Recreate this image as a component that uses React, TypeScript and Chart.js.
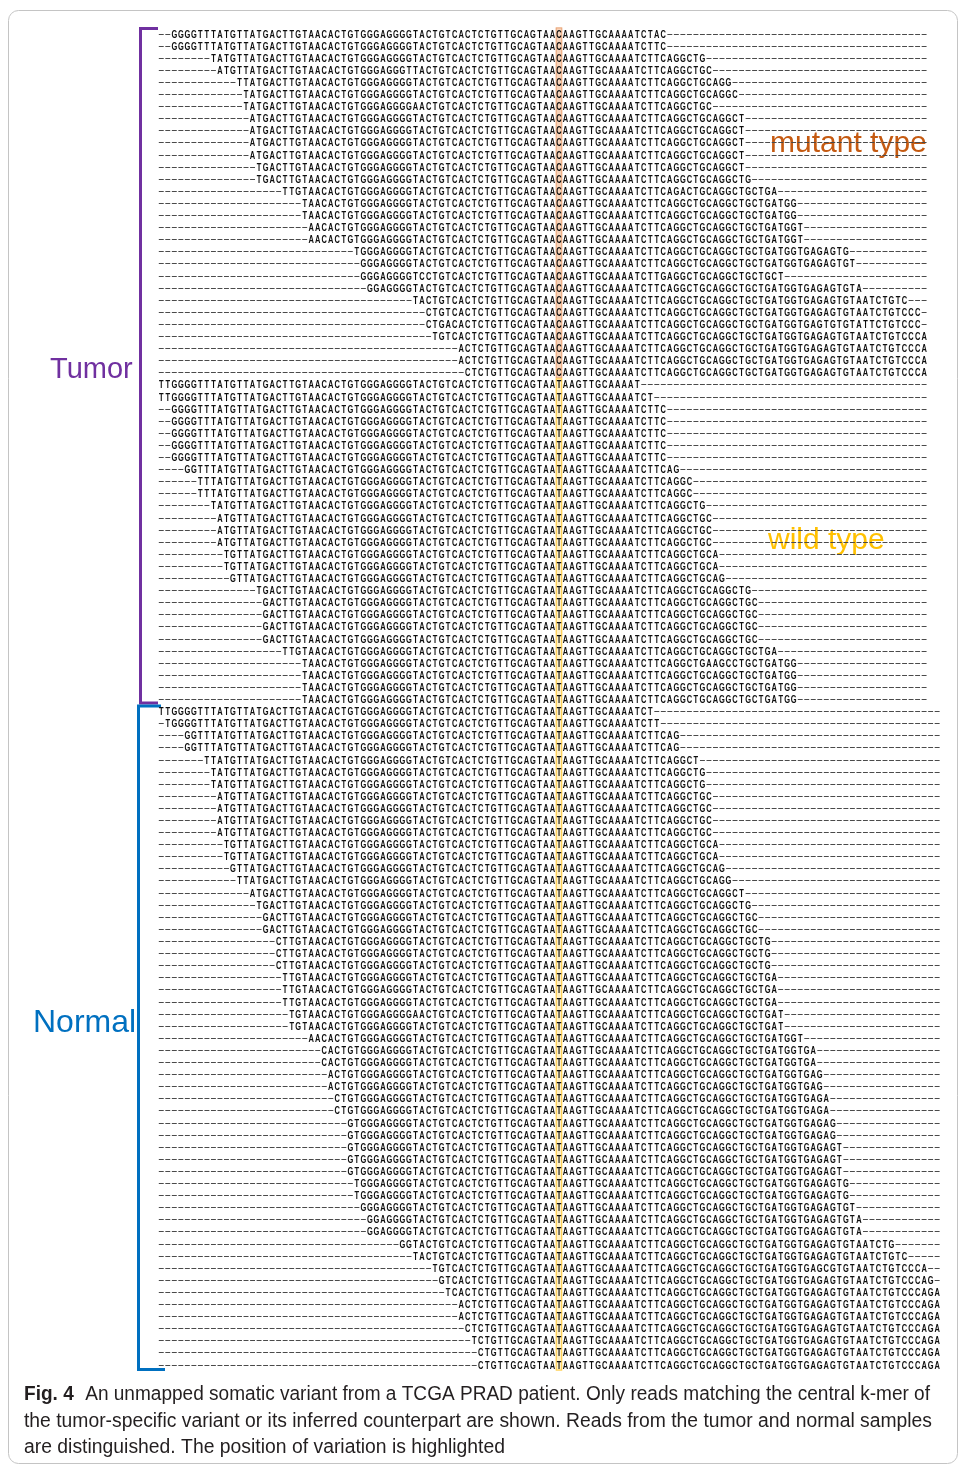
import { useEffect, useRef } from "react";
import { Chart, registerables } from "chart.js";

Chart.register(...registerables);

// ---------- data ----------
const REF_LEFT = "TTGGGGTTTATGTTATGACTTGTAACACTGTGGGAGGGGTACTGTCACTCTGTTGCAGTAA";
const REF_RIGHT = "AAGTTGCAAAATCTTCAGGCTGCAGGCTGCTGATGGTGAGAGTGTAATCTGTCCCAGA";
const VARIANT_INDEX = 61;
const MUTANT_BASE = "C";
const WILD_BASE = "T";

// tumor reads carrying the mutant allele (first aligned column, end column exclusive)
const mutantStarts = [2, 2, 8, 9, 12, 13, 13, 14, 14, 14, 14, 15, 15, 19, 22, 22, 23, 23, 30, 31, 31, 32, 39, 41, 41, 42, 46, 46, 47];
const mutantEnds = [78, 78, 84, 85, 88, 89, 85, 90, 90, 90, 90, 90, 91, 95, 98, 98, 99, 99, 106, 107, 96, 108, 115, 117, 117, 118, 118, 118, 118];

// tumor reads carrying the wild-type allele
const tumorWildStarts = [0, 0, 2, 2, 2, 2, 2, 4, 6, 6, 8, 9, 9, 9, 10, 10, 11, 15, 16, 16, 16, 16, 19, 22, 22, 22, 22];
const tumorWildEnds = [74, 76, 78, 78, 78, 78, 78, 80, 82, 82, 84, 85, 85, 85, 86, 86, 87, 91, 92, 92, 92, 92, 95, 98, 98, 98, 98];

// normal-sample reads (wild type)
const normalStarts = [0, 1, 4, 4, 7, 8, 8, 9, 9, 9, 9, 10, 10, 11, 12, 14, 15, 16, 16, 18, 18, 18, 19, 19, 19, 20, 20, 23, 25, 25, 26, 26, 27, 27, 29, 29, 29, 29, 29, 30, 30, 31, 32, 32, 37, 39, 42, 43, 44, 46, 46, 47, 48, 49, 49];
const normalEnds = [76, 77, 80, 80, 83, 84, 84, 85, 85, 85, 85, 86, 86, 87, 88, 90, 91, 92, 92, 94, 94, 94, 95, 95, 95, 96, 96, 99, 101, 101, 102, 102, 103, 103, 104, 104, 105, 105, 105, 106, 106, 107, 108, 108, 113, 115, 118, 119, 120, 120, 120, 120, 120, 120, 120];

// sequencing mismatches: [row, column, base]
const mismatchRows = [0, 3, 6, 13, 20, 20, 20, 24, 24, 24, 52, 52, 81, 102];
const mismatchCols = [76, 38, 39, 80, 40, 77, 94, 44, 102, 108, 84, 87, 39, 102];
const mismatchBases = ["A", "T", "A", "A", "C", "G", "C", "A", "T", "T", "A", "C", "A", "C"];

const TUMOR_COLS = 118;
const NORMAL_COLS = 120;

const captionBold = "Fig. 4";
const captionLines = [
  "An unmapped somatic variant from a TCGA PRAD patient. Only reads matching the central k-mer of",
  "the tumor-specific variant or its inferred counterpart are shown. Reads from the tumor and normal samples",
  "are distinguished. The position of variation is highlighted",
];

// ---------- derived rows ----------
const REF = REF_LEFT + "N" + REF_RIGHT;
type Row = { start: number; end: number; allele: string; width: number };
const rows: Row[] = [
  ...mutantStarts.map((s, i) => ({ start: s, end: mutantEnds[i], allele: MUTANT_BASE, width: TUMOR_COLS })),
  ...tumorWildStarts.map((s, i) => ({ start: s, end: tumorWildEnds[i], allele: WILD_BASE, width: TUMOR_COLS })),
  ...normalStarts.map((s, i) => ({ start: s, end: normalEnds[i], allele: WILD_BASE, width: NORMAL_COLS })),
];
const TUMOR_ROWS = mutantStarts.length + tumorWildStarts.length;

function baseAt(r: number, c: number): string {
  for (let k = 0; k < mismatchRows.length; k++) {
    if (mismatchRows[k] === r && mismatchCols[k] === c) return mismatchBases[k];
  }
  if (c === VARIANT_INDEX) return rows[r].allele;
  return REF[c];
}

// ---------- layout ----------
const W = 958;
const H = 1466;
const PITCH = 6.52;
const LEFT = 158;
const ROW_H = 12.1;
const FIRST_ROW_Y = 33.5;
const TOP = FIRST_ROW_Y - ROW_H / 2;

const PURPLE = "#7030a0";
const BLUE = "#0070c0";

const alignmentPlugin = {
  id: "alignment",
  beforeDatasetsDraw(chart: any) {
    const ctx: CanvasRenderingContext2D = chart.ctx;
    const xs = chart.scales.x;
    const ys = chart.scales.y;
    const band = ys.getPixelForValue(1) - ys.getPixelForValue(0);
    const rowTop = (i: number) => ys.getPixelForValue(i) - band / 2;
    const rowBot = (i: number) => ys.getPixelForValue(i) + band / 2;
    ctx.save();

    // figure frame
    ctx.strokeStyle = "#c4c4c4";
    ctx.lineWidth = 1;
    ctx.beginPath();
    (ctx as any).roundRect(8.5, 10.5, 949, 1453, 10);
    ctx.stroke();

    // highlighted variant column
    const vx0 = xs.getPixelForValue(VARIANT_INDEX);
    const vx1 = xs.getPixelForValue(VARIANT_INDEX + 1);
    const mEnd = mutantStarts.length - 1;
    ctx.fillStyle = "#f8d3b9";
    ctx.fillRect(vx0, rowTop(0), vx1 - vx0, rowBot(mEnd) - rowTop(0));
    ctx.strokeStyle = "#eaa77c";
    ctx.lineWidth = 1;
    ctx.strokeRect(vx0 + 0.5, rowTop(0) + 0.5, vx1 - vx0 - 1, rowBot(mEnd) - rowTop(0) - 1);
    ctx.fillStyle = "#fff0c4";
    ctx.fillRect(vx0, rowTop(mEnd + 1), vx1 - vx0, rowBot(rows.length - 1) - rowTop(mEnd + 1));
    ctx.strokeStyle = "#ffc73a";
    ctx.strokeRect(vx0 + 0.5, rowTop(mEnd + 1) + 0.5, vx1 - vx0 - 1, rowBot(rows.length - 1) - rowTop(mEnd + 1) - 1);

    // brackets
    ctx.lineWidth = 3;
    ctx.lineJoin = "miter";
    ctx.strokeStyle = PURPLE;
    const tTop = rowTop(0) + 1;
    const tBot = rowBot(TUMOR_ROWS - 1) - 2;
    ctx.beginPath();
    ctx.moveTo(158, tTop);
    ctx.lineTo(140.5, tTop);
    ctx.lineTo(140.5, tBot);
    ctx.lineTo(158, tBot);
    ctx.stroke();
    ctx.strokeStyle = BLUE;
    const nTop = rowTop(TUMOR_ROWS) + 1;
    const nBot = rowBot(rows.length - 1) - 1;
    ctx.beginPath();
    ctx.moveTo(161, nTop);
    ctx.lineTo(138.5, nTop);
    ctx.lineTo(138.5, nBot);
    ctx.lineTo(165, nBot);
    ctx.stroke();

    // labels
    ctx.textBaseline = "alphabetic";
    ctx.textAlign = "left";
    ctx.font = '29px "Liberation Sans", Arial, sans-serif';
    ctx.fillStyle = PURPLE;
    ctx.fillText("Tumor", 50, 378);
    ctx.font = '32px "Liberation Sans", Arial, sans-serif';
    ctx.fillStyle = BLUE;
    ctx.fillText("Normal", 33, 1032);
    ctx.font = '30px "Liberation Sans", Arial, sans-serif';
    ctx.fillStyle = "#c55a11";
    ctx.fillText("mutant type", 770, 152);
    ctx.fillStyle = "#ffc000";
    ctx.fillText("wild type", 768, 549);

    // caption
    ctx.fillStyle = "#231f20";
    const BOLD = 'bold 20px "Liberation Sans", Arial, sans-serif';
    const REG = '20px "Liberation Sans", Arial, sans-serif';
    ctx.font = BOLD;
    const boldW = ctx.measureText(captionBold).width;
    ctx.font = REG;
    const gap = 12;
    const targets = [906, 908, 481];
    const baselines = [1400, 1427, 1453];
    captionLines.forEach((line, i) => {
      ctx.font = REG;
      const lw = ctx.measureText(line).width + (i === 0 ? boldW + gap : 0);
      const sx = targets[i] / lw;
      ctx.setTransform(sx, 0, 0, 1, 0, 0);
      let x = 24 / sx;
      if (i === 0) {
        ctx.font = BOLD;
        ctx.fillText(captionBold, x, baselines[i]);
        x += boldW + gap;
        ctx.font = REG;
      }
      ctx.fillText(line, x, baselines[i]);
      ctx.setTransform(1, 0, 0, 1, 0, 0);
    });
    ctx.restore();
  },
  afterDatasetsDraw(chart: any) {
    const ctx: CanvasRenderingContext2D = chart.ctx;
    const xs = chart.scales.x;
    const ys = chart.scales.y;
    const meta = chart.getDatasetMeta(0);
    ctx.save();
    const sx = 0.68;
    ctx.font = 'bold 11px "Liberation Sans", Arial, sans-serif';
    ctx.textAlign = "center";
    ctx.textBaseline = "alphabetic";
    meta.data.forEach((_bar: any, r: number) => {
      const row = rows[r];
      const yc = Math.round(ys.getPixelForValue(r));
      for (let c = 0; c < row.width; c++) {
        const cl = xs.getPixelForValue(c);
        const cr = xs.getPixelForValue(c + 1);
        if (c >= row.start && c < row.end) {
          ctx.fillStyle = "#0d0d0d";
          ctx.setTransform(sx, 0, 0, 1, 0, 0);
          ctx.fillText(baseAt(r, c), (cl + cr) / 2 / sx, yc + 4);
          ctx.setTransform(1, 0, 0, 1, 0, 0);
        } else {
          ctx.fillStyle = "#4a4a4a";
          ctx.fillRect(cl + 0.8, yc, cr - cl - 1.6, 1);
        }
      }
    });
    ctx.restore();
  },
};

export default function App() {
  const canvasRef = useRef<HTMLCanvasElement | null>(null);
  useEffect(() => {
    const canvas = canvasRef.current;
    if (!canvas) return;
    const chart = new Chart(canvas, {
      type: "bar",
      data: {
        labels: rows.map((_, i) => String(i + 1)),
        datasets: [
          {
            label: "reads",
            data: rows.map((r) => [r.start, r.end]) as any,
            backgroundColor: "rgba(0,0,0,0)",
            borderWidth: 0,
            barPercentage: 1,
            categoryPercentage: 1,
          },
        ],
      },
      options: {
        indexAxis: "y",
        animation: false,
        responsive: false,
        maintainAspectRatio: false,
        events: [],
        layout: {
          padding: {
            left: LEFT,
            right: W - LEFT - NORMAL_COLS * PITCH,
            top: TOP,
            bottom: H - (TOP + rows.length * ROW_H),
          },
        },
        scales: {
          x: { type: "linear", min: 0, max: NORMAL_COLS, display: false },
          y: { type: "category", display: false, offset: true },
        },
        plugins: {
          legend: { display: false },
          tooltip: { enabled: false },
        },
      },
      plugins: [alignmentPlugin],
    });
    return () => chart.destroy();
  }, []);
  return (
    <canvas
      ref={canvasRef}
      width={W}
      height={H}
      style={{ position: "absolute", left: 0, top: 0, width: W, height: H, display: "block" }}
    />
  );
}
